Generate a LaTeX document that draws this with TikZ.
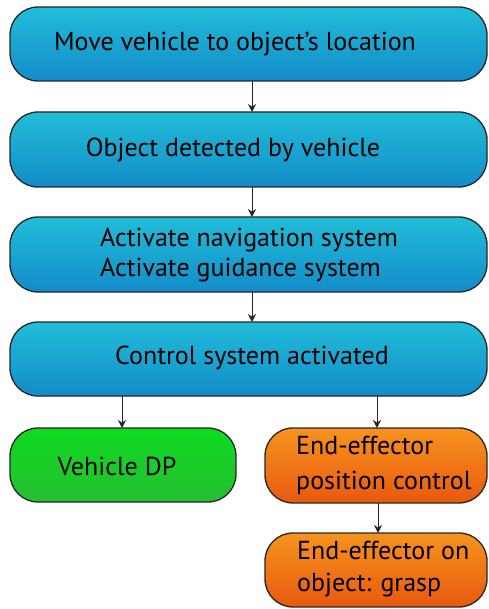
\documentclass[tikz,border=0pt]{standalone}
\usepackage{fontspec}
\setmainfont{PT Sans}
\usetikzlibrary{arrows.meta}
\definecolor{bluetop}{HTML}{22BDD8}
\definecolor{bluebot}{HTML}{138CC9}
\definecolor{greentop}{HTML}{0EDB1F}
\definecolor{greenbot}{HTML}{27BE32}
\definecolor{orangetop}{HTML}{F7931E}
\definecolor{orangebot}{HTML}{E8590F}
\tikzset{
  box/.style={draw=black!85, line width=1.3pt, rounded corners=28pt, inner sep=0pt},
  bluebox/.style={box, top color=bluetop, bottom color=bluebot},
  greenbox/.style={box, top color=greentop, bottom color=greenbot},
  orangebox/.style={box, top color=orangetop, bottom color=orangebot},
  txt/.style={font=\fontsize{26}{30}\selectfont, inner sep=0pt, text=black},
  arr/.style={-{Stealth[length=8pt,width=8pt]}, line width=1pt, black!85}
}
\begin{document}
\begin{tikzpicture}[x=1pt,y=-1pt]
\useasboundingbox (0,0) rectangle (488,609);
% boxes
\draw[bluebox] (10,7) rectangle (487,81) node[pos=0.5,inner sep=0] (b1) {};
\draw[bluebox] (10,112) rectangle (487,187) node[pos=0.5,inner sep=0] (b2) {};
\draw[bluebox] (10,217) rectangle (487,292) node[pos=0.5,inner sep=0] (b3) {};
\draw[bluebox] (10,322) rectangle (487,396) node[pos=0.5,inner sep=0] (b4) {};
\draw[greenbox] (10,428) rectangle (236,502) node[pos=0.5,inner sep=0] (g1) {};
\draw[orangebox] (265,428) rectangle (487,503) node[pos=0.5,inner sep=0] (o1) {};
\draw[orangebox] (265,533) rectangle (487,607) node[pos=0.5,inner sep=0] (o2) {};
% named anchors for connectors
\coordinate (b1s) at (252,81);
\coordinate (b2n) at (252,112);
\coordinate (b2s) at (252,187);
\coordinate (b3n) at (252,217);
\coordinate (b3s) at (252,292);
\coordinate (b4n) at (252,322);
\coordinate (b4sl) at (122,396);
\coordinate (b4sr) at (377,396);
\coordinate (g1n) at (122,428);
\coordinate (o1n) at (377,428);
\coordinate (o1s) at (378,503);
\coordinate (o2n) at (378,533);
% texts
\node[txt] (t1) at (235,44) {Move vehicle to object’s location};
\node[txt] (t2) at (233,150) {Object detected by vehicle};
\node[txt, align=left] (t3) at (249,255) {Activate navigation system\\Activate guidance system};
\node[txt] (t4) at (252,358) {Control system activated};
\node[txt] (t5) at (117,466) {Vehicle DP};
\node[txt, align=left, anchor=west, font=\fontsize{26}{35}\selectfont] (t6) at (296,465) {End-effector\\position control};
\node[txt, align=left, anchor=west, font=\fontsize{26}{32}\selectfont] (t7) at (297,569) {End-effector on\\object: grasp};
% connectors
\draw[arr] (b1s) -- (b2n);
\draw[arr] (b2s) -- (b3n);
\draw[arr] (b3s) -- (b4n);
\draw[arr] (b4sl) -- (g1n);
\draw[arr] (b4sr) -- (o1n);
\draw[arr] (o1s) -- (o2n);
\end{tikzpicture}
\end{document}
